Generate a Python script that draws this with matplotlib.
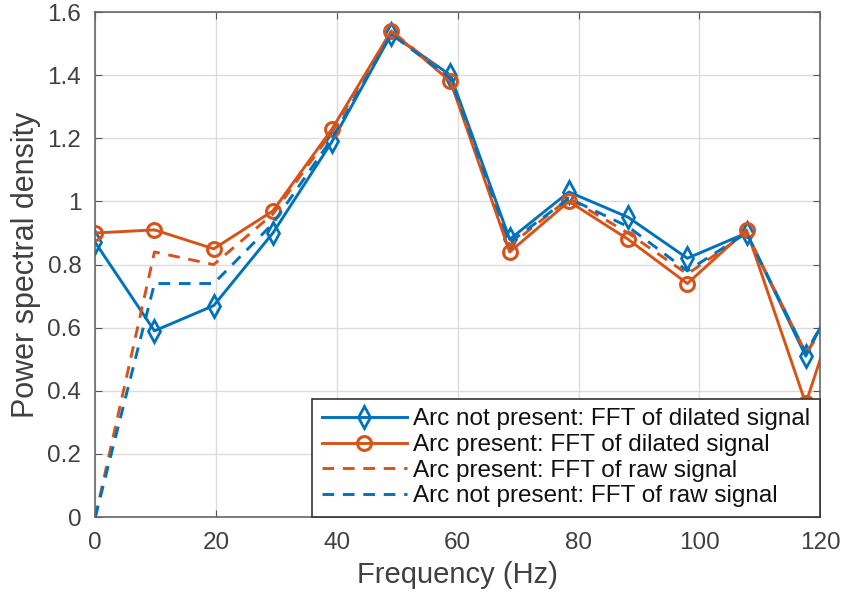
import matplotlib.pyplot as plt

# frequences (Hz) - le dernier point sort du cadre, comme sur l'original
freq = [0, 9.8, 19.6, 29.4, 39.2, 49.0, 58.8, 68.6, 78.4, 88.2, 98.0, 107.8, 117.6, 127.4]

no_arc_dilated = [0.87, 0.59, 0.67, 0.90, 1.19, 1.53, 1.40, 0.88, 1.03, 0.95, 0.82, 0.90, 0.51, 0.88]
arc_dilated = [0.90, 0.91, 0.85, 0.97, 1.23, 1.54, 1.38, 0.84, 1.00, 0.88, 0.74, 0.91, 0.36, 0.93]
arc_raw = [0.0, 0.84, 0.80, 0.96, 1.22, 1.54, 1.39, 0.86, 1.01, 0.90, 0.77, 0.90, 0.52, 0.78]
no_arc_raw = [0.0, 0.74, 0.74, 0.93, 1.20, 1.53, 1.39, 0.87, 1.01, 0.92, 0.78, 0.90, 0.52, 0.85]

labels = ["Arc not present: FFT of dilated signal",
          "Arc present: FFT of dilated signal",
          "Arc present: FFT of raw signal",
          "Arc not present: FFT of raw signal"]

blue = "#0072BD"
orange = "#D95319"
grey = "#404040"

plt.rcParams["font.family"] = ["Liberation Sans", "DejaVu Sans"]

fig = plt.figure(figsize=(8.43, 6.02), dpi=100)
ax = fig.add_axes([0.113, 0.141, 0.860, 0.839])

ax.plot(freq, no_arc_dilated, color=blue, lw=2.1, marker="d", ms=11,
        mfc="none", mew=2, label=labels[0])
ax.plot(freq, arc_dilated, color=orange, lw=2.1, marker="o", ms=10,
        mfc="none", mew=2.2, label=labels[1])
ax.plot(freq, arc_raw, color=orange, lw=2.1, ls=(0, (4, 3)), label=labels[2])
ax.plot(freq, no_arc_raw, color=blue, lw=2.1, ls=(0, (4, 3)), label=labels[3])

ax.set_xlim(0, 120)
ax.set_ylim(0, 1.6)
ax.set_xticks(range(0, 121, 20))
ax.set_yticks([0, 0.2, 0.4, 0.6, 0.8, 1, 1.2, 1.4, 1.6])
ax.set_yticklabels(["0", "0.2", "0.4", "0.6", "0.8", "1", "1.2", "1.4", "1.6"])
ax.grid(True, color="#dcdcdc", lw=1)
ax.set_axisbelow(True)
ax.tick_params(direction="in", length=5, colors="#555555", labelsize=17.5,
               top=True, right=True, labelcolor=grey)
ax.tick_params(axis="x", pad=11)
ax.tick_params(axis="y", pad=10)
for s in ax.spines.values():
    s.set_color("#666666")
    s.set_linewidth(1.2)

ax.set_xlabel("Frequency (Hz)", fontsize=21, color=grey, labelpad=5)
ax.set_ylabel("Power spectral density", fontsize=22, color=grey, labelpad=5)

leg = ax.legend(loc="lower right", borderaxespad=0, fontsize=17.5, handlelength=3.5,
                handletextpad=0.28, labelspacing=0.15, fancybox=False, framealpha=1,
                edgecolor="#333333", borderpad=0.4)
leg.get_frame().set_linewidth(1.2)
for t in leg.get_texts():
    t.set_color("#111111")

fig.savefig("out.png", dpi=100)
